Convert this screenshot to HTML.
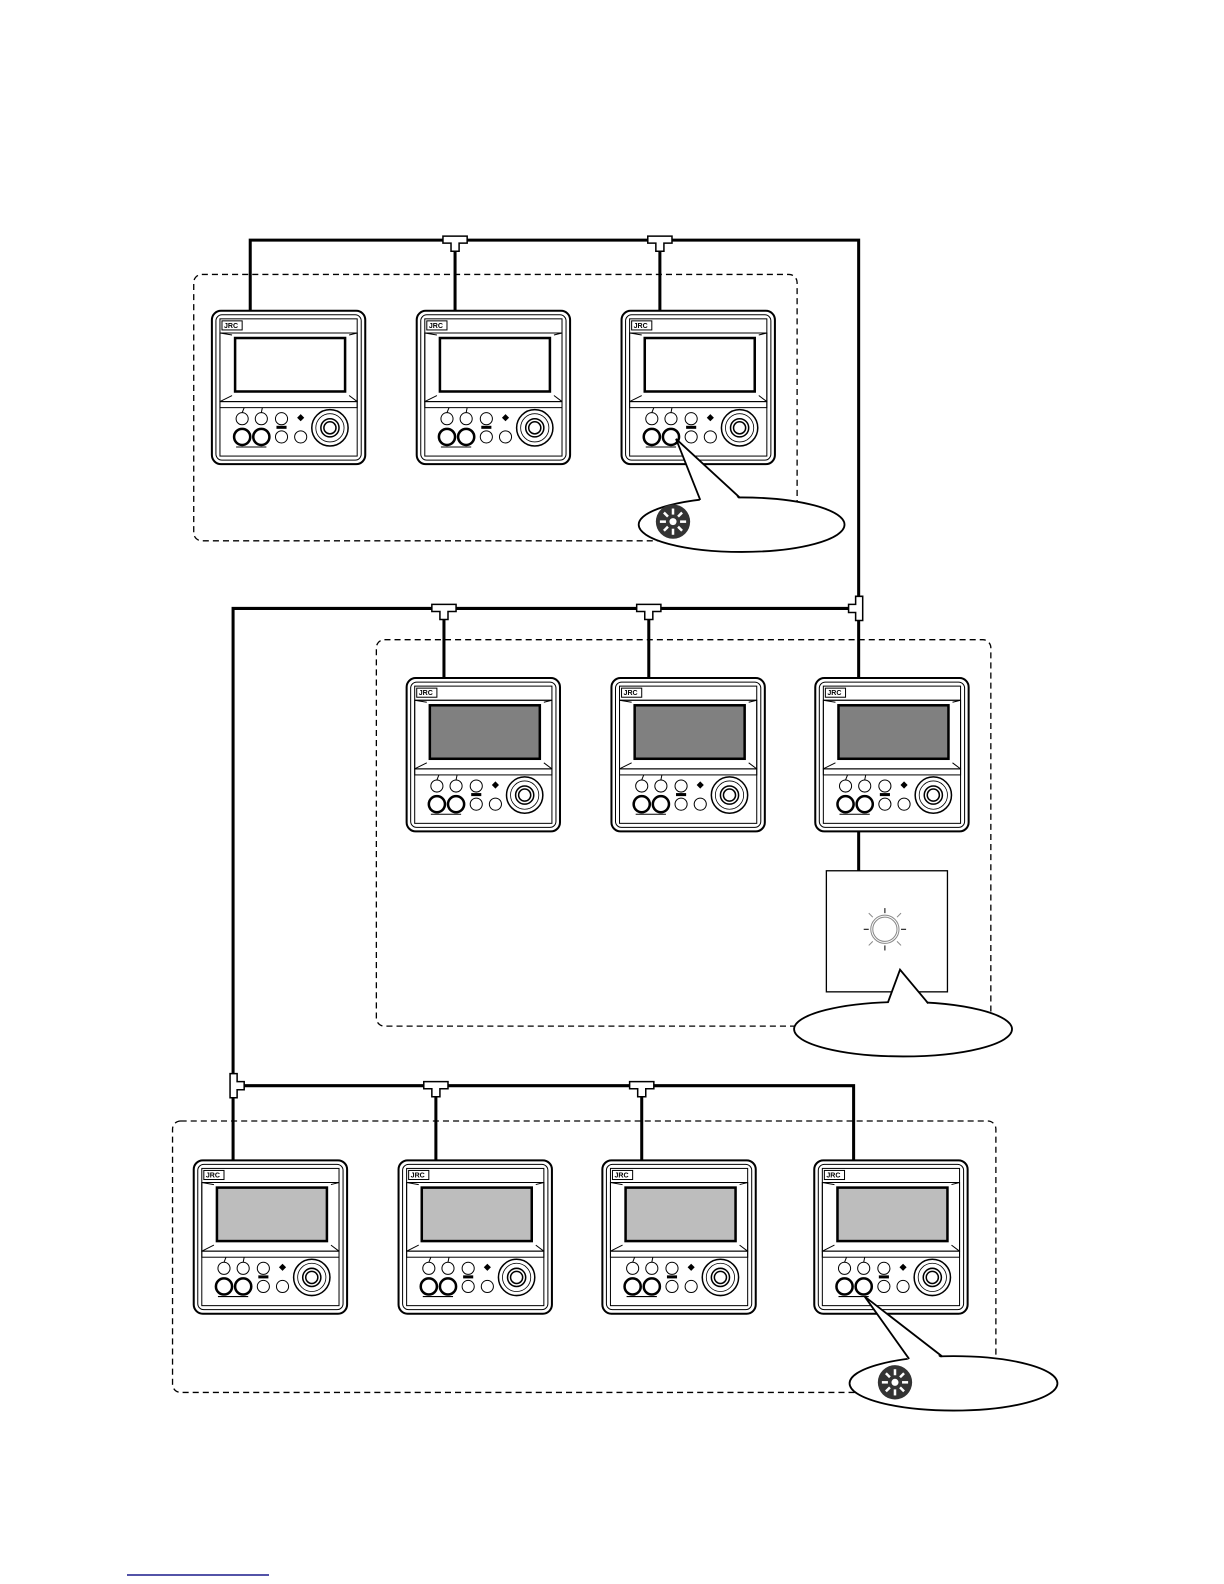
<!DOCTYPE html>
<html><head><meta charset="utf-8"><style>html,body{margin:0;padding:0;background:#fff}svg{display:block}</style></head>
<body>
<svg width="1224" height="1584" viewBox="0 0 1224 1584" xmlns="http://www.w3.org/2000/svg" font-family="Liberation Sans, sans-serif">
<defs>
<g id="dev" fill="none" stroke="#000">
<rect x="0" y="0" width="152" height="152" rx="9" stroke-width="2"/>
<rect x="4" y="4" width="144" height="144" rx="6" stroke-width="1"/>
<rect x="8" y="8" width="136" height="136" stroke-width="1"/>
<line x1="8" y1="22" x2="144" y2="22" stroke-width="1"/>
<polygon points="8,22 144,22 144,90 8,90" stroke-width="1"/>
<line x1="8" y1="22" x2="20" y2="24" /><line x1="144" y1="22" x2="136" y2="24"/>
<line x1="8" y1="90" x2="20" y2="84"/><line x1="144" y1="90" x2="136" y2="84"/>
<rect x="8" y="90" width="136" height="6" stroke-width="1"/>
<circle cx="30" cy="107" r="6"/><circle cx="49" cy="107" r="6"/><circle cx="69" cy="107" r="6"/>
<line x1="30" y1="101" x2="32" y2="96"/><line x1="49" y1="101" x2="50" y2="96"/>
<circle cx="30" cy="125" r="8" stroke-width="2.5"/><circle cx="49" cy="125" r="8" stroke-width="2.5"/>
<circle cx="69" cy="125" r="6"/><circle cx="88" cy="125" r="6"/>
<rect x="86" y="104" width="4" height="4" transform="rotate(45 88 106)" fill="#000"/>
<line x1="24" y1="135" x2="54" y2="135" stroke-width="1"/>
<rect x="64" y="114" width="10" height="3" fill="#000" stroke="none"/>
<circle cx="117" cy="116" r="18" stroke-width="1.5"/>
<circle cx="117" cy="116" r="14" stroke-width="0.8"/>
<circle cx="117" cy="116" r="9" stroke-width="1.5"/>
<circle cx="117" cy="116" r="6" stroke-width="1.5"/>
<rect x="10" y="10" width="20" height="9" stroke-width="1"/>
</g>
<g id="sun">
<circle r="17" fill="#333"/>
<circle r="3.5" fill="#fff"/>
<g stroke="#fff" stroke-width="2.5">
<line x1="0" y1="-7" x2="0" y2="-13"/><line x1="0" y1="7" x2="0" y2="13"/>
<line x1="-7" y1="0" x2="-13" y2="0"/><line x1="7" y1="0" x2="13" y2="0"/>
<line x1="5" y1="5" x2="9" y2="9"/><line x1="-5" y1="5" x2="-9" y2="9"/>
<line x1="5" y1="-5" x2="9" y2="-9"/><line x1="-5" y1="-5" x2="-9" y2="-9"/>
</g>
</g>
</defs>

<g transform="scale(1.009)">
<g fill="none" stroke="#000" stroke-width="1.3" stroke-dasharray="6,4">
<rect x="192" y="272" width="598" height="264" rx="8"/>
<rect x="373" y="634" width="609" height="383" rx="8"/>
<rect x="171" y="1111" width="816" height="269" rx="8"/>
</g>

<g fill="none" stroke="#000" stroke-width="3">
<polyline points="248,308 248,238 851,238 851,672"/>
<line x1="451" y1="238" x2="451" y2="308"/>
<line x1="654" y1="238" x2="654" y2="308"/>
<polyline points="231,1076 231,603 851,603"/>
<line x1="440" y1="603" x2="440" y2="672"/>
<line x1="643" y1="603" x2="643" y2="672"/>
<line x1="851" y1="824" x2="851" y2="863"/>
<polyline points="231,1150 231,1076 846,1076 846,1150"/>
<line x1="432" y1="1076" x2="432" y2="1150"/>
<line x1="636" y1="1076" x2="636" y2="1150"/>
</g>

<g fill="#fff" stroke="#000" stroke-width="1.5">
<path d="M439,234 h24 v7 h-8 v8 h-8 v-8 h-8 z"/>
<path d="M642,234 h24 v7 h-8 v8 h-8 v-8 h-8 z"/>
<path d="M428,599 h24 v7 h-8 v8 h-8 v-8 h-8 z"/>
<path d="M631,599 h24 v7 h-8 v8 h-8 v-8 h-8 z"/>
<path d="M420,1072 h24 v7 h-8 v8 h-8 v-8 h-8 z"/>
<path d="M624,1072 h24 v7 h-8 v8 h-8 v-8 h-8 z"/>
<path d="M848,591 h7 v24 h-7 v-8 h-7 v-8 h7 z"/>
<path d="M228,1064 h7 v8 h7 v8 h-7 v8 h-7 z"/>
</g>

<g stroke="#000" stroke-width="2.5">
<rect x="233" y="335" width="109" height="53" fill="#fff"/>
<rect x="436" y="335" width="109" height="53" fill="#fff"/>
<rect x="639" y="335" width="109" height="53" fill="#fff"/>
<rect x="426" y="699" width="109" height="53" fill="#808080"/>
<rect x="629" y="699" width="109" height="53" fill="#808080"/>
<rect x="831" y="699" width="109" height="53" fill="#808080"/>
<rect x="215" y="1177" width="109" height="53" fill="#bdbdbd"/>
<rect x="418" y="1177" width="109" height="53" fill="#bdbdbd"/>
<rect x="620" y="1177" width="109" height="53" fill="#bdbdbd"/>
<rect x="830" y="1177" width="109" height="53" fill="#bdbdbd"/>
</g>

<use href="#dev" x="210" y="308"/><use href="#dev" x="413" y="308"/><use href="#dev" x="616" y="308"/>
<use href="#dev" x="403" y="672"/><use href="#dev" x="606" y="672"/><use href="#dev" x="808" y="672"/>
<use href="#dev" x="192" y="1150"/><use href="#dev" x="395" y="1150"/><use href="#dev" x="597" y="1150"/><use href="#dev" x="807" y="1150"/>
<g font-size="7" font-weight="bold">
<text x="222" y="325">JRC</text><text x="425" y="325">JRC</text><text x="628" y="325">JRC</text>
<text x="415" y="689">JRC</text><text x="618" y="689">JRC</text><text x="820" y="689">JRC</text>
<text x="204" y="1167">JRC</text><text x="407" y="1167">JRC</text><text x="609" y="1167">JRC</text><text x="819" y="1167">JRC</text>
</g>

<rect x="819" y="863" width="120" height="120" fill="#fff" stroke="#000" stroke-width="1.3"/>
<g transform="translate(877,921)" fill="none" stroke="#888" stroke-width="1">
<circle r="14"/><circle r="12"/>
<g stroke="#000"><line x1="0" y1="-16" x2="0" y2="-21"/><line x1="0" y1="16" x2="0" y2="21"/><line x1="-16" y1="0" x2="-21" y2="0"/><line x1="16" y1="0" x2="21" y2="0"/></g>
<line x1="12" y1="12" x2="16" y2="16"/><line x1="-12" y1="12" x2="-16" y2="16"/><line x1="12" y1="-12" x2="16" y2="-16"/><line x1="-12" y1="-12" x2="-16" y2="-16"/>
</g>

<!-- callouts -->
<g stroke="#000" stroke-width="1.8">
<ellipse cx="735" cy="520" rx="102" ry="27" fill="#fff"/>
<polygon points="694,497 670,435 733,495" fill="#fff" stroke="none"/>
<polyline points="694,495.5 670,435 733,493" fill="none"/>

<ellipse cx="895" cy="1020" rx="108" ry="27" fill="#fff"/>
<polygon points="880,996 892,961 920,996" fill="#fff" stroke="none"/>
<polyline points="880,993.5 892,961 920,994.5" fill="none"/>

<ellipse cx="945" cy="1371" rx="103" ry="27" fill="#fff"/>
<polygon points="901,1349 857,1285 934,1347" fill="#fff" stroke="none"/>
<polyline points="901,1346.8 857,1285 934,1344.5" fill="none"/>
</g>
<use href="#sun" x="667" y="517"/>
<use href="#sun" x="887" y="1370"/>
</g>

<line x1="127" y1="1575" x2="269" y2="1575" stroke="#1a1a8c" stroke-width="1.5"/>
</svg>
</body></html>
